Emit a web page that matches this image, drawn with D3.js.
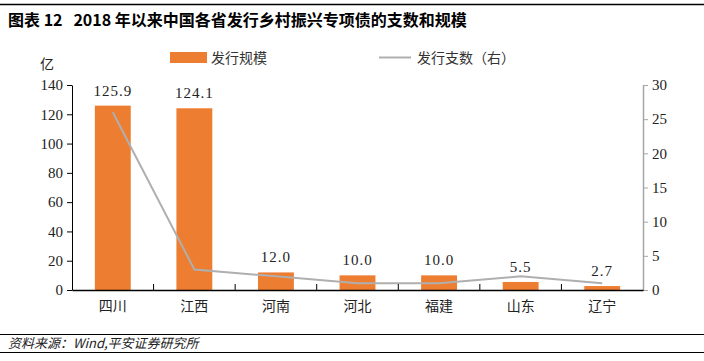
<!DOCTYPE html>
<html><head><meta charset="utf-8">
<script src="https://cdn.jsdelivr.net/npm/d3@7"></script>
<style>
body{margin:0;background:#fff;}
svg{display:block;}
</style></head>
<body>
<svg id="c" width="704" height="361"></svg>
<script>
const categories = ["四川","江西","河南","河北","福建","山东","辽宁"];
const scaleValues = [125.9,124.1,12.0,10.0,10.0,5.5,2.7];
const countValues = [26,3,2,1,1,2,1];
const leftTicks = [0,20,40,60,80,100,120,140];
const rightTicks = [0,5,10,15,20,25,30];

const svg = d3.select("#c");
const L = 72, R = 643, T = 85, B = 290;
const cjk = "'Noto Sans CJK SC', sans-serif";
const serif = "'Liberation Serif', 'Times New Roman', serif";

// title
svg.append("line").attr("x1",0).attr("x2",704).attr("y1",4.5).attr("y2",4.5).attr("stroke","#000").attr("stroke-width",1.5);
svg.append("text").attr("x",8).attr("y",26).attr("font-family",cjk).attr("font-weight","bold").attr("font-size",16).attr("fill","#000")
  .attr("xml:space","preserve").text("图表 12   2018 年以来中国各省发行乡村振兴专项债的支数和规模");

const x = d3.scaleBand().domain(categories).range([L,R]).paddingInner(0).paddingOuter(0);
const yL = d3.scaleLinear().domain([0,140]).range([B,T]);
const yR = d3.scaleLinear().domain([0,30]).range([B,T]);
const bw = x.bandwidth()*0.44;

// bars
svg.append("g").selectAll("rect").data(scaleValues).join("rect")
  .attr("x",(d,i)=>x(categories[i])+x.bandwidth()/2-bw/2)
  .attr("y",d=>yL(d)).attr("width",bw).attr("height",d=>B-yL(d)).attr("fill","#ED7D31");

// bar labels
svg.append("g").selectAll("text").data(scaleValues).join("text")
  .attr("x",(d,i)=>x(categories[i])+x.bandwidth()/2)
  .attr("y",d=>yL(d)-10).attr("text-anchor","middle")
  .attr("font-family",serif).attr("font-size",15).attr("fill","#222")
  .attr("letter-spacing",1)
  .text(d=>d.toFixed(1));

// line
const line = d3.line().x((d,i)=>x(categories[i])+x.bandwidth()/2).y(d=>yR(d));
svg.append("path").datum(countValues).attr("d",line).attr("fill","none").attr("stroke","#AFAFAF").attr("stroke-width",2);

// left axis
const gl = svg.append("g").attr("transform",`translate(${L},0)`)
  .call(d3.axisLeft(yL).tickValues(leftTicks).tickSize(5).tickPadding(4).tickSizeOuter(0));
gl.select(".domain").attr("stroke","#000");
gl.selectAll(".tick line").attr("stroke","#000");
gl.selectAll("text").attr("font-family",serif).attr("font-size",15).attr("fill","#222");

// right axis
const gr = svg.append("g").attr("transform",`translate(${R},0)`)
  .call(d3.axisRight(yR).tickValues(rightTicks).tickSize(5).tickPadding(4).tickSizeOuter(0));
gr.select(".domain").attr("stroke","#A6A6A6").attr("stroke-width",1.5);
gr.selectAll(".tick line").attr("stroke","#A6A6A6");
gr.selectAll("text").attr("font-family",serif).attr("font-size",15).attr("fill","#222");

// bottom axis
const gb = svg.append("g").attr("transform",`translate(0,${B})`)
  .call(d3.axisBottom(x).tickSize(0).tickPadding(11));
gb.select(".domain").attr("stroke","#000").attr("stroke-width",1.5);
gb.selectAll("text").attr("font-family",cjk).attr("font-size",14).attr("fill","#222");
// category separator ticks (inward)
svg.append("g").selectAll("line").data(categories.slice(1)).join("line")
  .attr("x1",d=>x(d)).attr("x2",d=>x(d)).attr("y1",B).attr("y2",B-6).attr("stroke","#000");

// unit
svg.append("text").attr("x",40).attr("y",69).attr("font-family",cjk).attr("font-size",14).attr("fill","#222").text("亿");

// legend
svg.append("rect").attr("x",170).attr("y",52).attr("width",37).attr("height",11).attr("fill","#ED7D31");
svg.append("text").attr("x",211).attr("y",63).attr("font-family",cjk).attr("font-size",14).attr("fill","#333").text("发行规模");
svg.append("line").attr("x1",379).attr("x2",411).attr("y1",57.5).attr("y2",57.5).attr("stroke","#AFAFAF").attr("stroke-width",2);
svg.append("text").attr("x",417).attr("y",63).attr("font-family",cjk).attr("font-size",14).attr("fill","#333").text("发行支数（右）");

// footer
svg.append("line").attr("x1",0).attr("x2",704).attr("y1",334.5).attr("y2",334.5).attr("stroke","#000").attr("stroke-width",1.2);
svg.append("line").attr("x1",0).attr("x2",704).attr("y1",352.5).attr("y2",352.5).attr("stroke","#000").attr("stroke-width",1.2);
svg.append("text").attr("x",8).attr("y",348).attr("font-family",cjk).attr("font-style","italic").attr("font-size",13).attr("fill","#222")
  .text("资料来源：Wind,平安证券研究所");
</script>
</body></html>
